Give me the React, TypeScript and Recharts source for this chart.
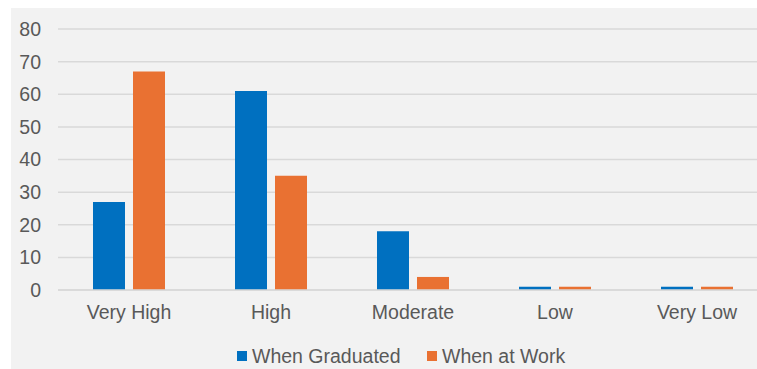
import React from 'react';
import { BarChart, Bar, XAxis, YAxis, CartesianGrid } from 'recharts';

const categories = ['Very High', 'High', 'Moderate', 'Low', 'Very Low'];
const whenGraduated = [27, 61, 18, 1, 1];
const whenAtWork = [67, 35, 4, 1, 1];
const yTicks = [0, 10, 20, 30, 40, 50, 60, 70, 80];

const BLUE = '#0070c0';
const ORANGE = '#e97132';
const TEXT = '#595959';
const GRID = '#d9d9d9';
const FONT = '"Liberation Sans", Arial, sans-serif';

const data = categories.map((name, i) => ({
  name,
  graduated: whenGraduated[i],
  atWork: whenAtWork[i],
}));

const LegendItem: React.FC<{ color: string; label: string; left: number }> = ({ color, label, left }) => (
  <div style={{ position: 'absolute', left, top: 333, display: 'flex', alignItems: 'center', height: 30 }}>
    <div style={{ width: 10, height: 10, background: color, marginRight: 5 }} />
    <span style={{ fontSize: 19.5, color: TEXT, fontFamily: FONT, lineHeight: '30px' }}>{label}</span>
  </div>
);

const App: React.FC = () => {
  return (
    <div
      style={{
        position: 'absolute',
        left: 11,
        top: 8,
        width: 746,
        height: 361,
        overflow: 'hidden',
        background: '#f2f2f2',
      }}
    >
      <BarChart
        width={770}
        height={361}
        data={data}
        margin={{ top: 21, right: 13, left: 0, bottom: 49 }}
        barSize={32}
        barGap={8}
      >
        <CartesianGrid vertical={false} stroke={GRID} strokeWidth={1.5} />
        <XAxis
          dataKey="name"
          height={30}
          axisLine={{ stroke: GRID, strokeWidth: 1.5 }}
          tickLine={false}
          tickMargin={9}
          tick={{ fill: TEXT, fontSize: 19.5, fontFamily: FONT }}
          interval={0}
        />
        <YAxis
          width={47}
          domain={[0, 80]}
          ticks={yTicks}
          axisLine={false}
          tickLine={false}
          tickMargin={11}
          tick={{ fill: TEXT, fontSize: 19.5, fontFamily: FONT }}
        />
        <Bar dataKey="graduated" name="When Graduated" fill={BLUE} isAnimationActive={false} />
        <Bar dataKey="atWork" name="When at Work" fill={ORANGE} isAnimationActive={false} />
      </BarChart>
      <LegendItem color={BLUE} label="When Graduated" left={226} />
      <LegendItem color={ORANGE} label="When at Work" left={416} />
    </div>
  );
};

export default App;
